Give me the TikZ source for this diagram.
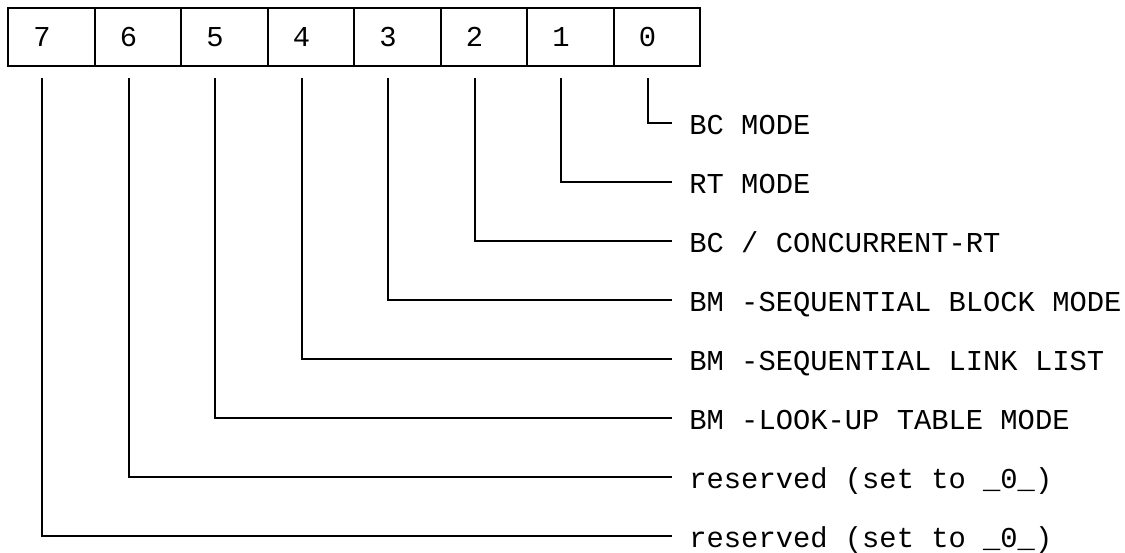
\documentclass[tikz,border=0pt]{standalone}
\usepackage{fontspec}
\setmonofont{Liberation Mono}
\usetikzlibrary{positioning}

\tikzset{
  cell/.style   = {draw, line width=1pt, minimum width=43.25pt, minimum height=29pt, inner sep=0pt, outer sep=0pt},
  bitnum/.style = {font=\ttfamily\fontsize{14.4}{16}\selectfont, inner sep=0pt},
  field/.style  = {anchor=west, font=\ttfamily\fontsize{14.4}{16}\selectfont, inner xsep=8.5pt, inner ysep=0pt, text height=11pt, text depth=0pt},
  lead/.style   = {line width=1pt, shorten <=6pt}
}

\begin{document}
\begin{tikzpicture}[x=0.5pt,y=-0.5pt]
    \useasboundingbox (0,0) rectangle (1125,552);

    % register cells, bit 7 on the left
    \node[cell] (c7) at (51.25,37) {};
    \foreach \i [remember=\i as \prev (initially 7)] in {6,...,0}
        \node[cell, right=0pt of c\prev] (c\i) {};

    \foreach \i in {0,...,7}
        \node[bitnum] (d\i) at ([xshift=-4.6pt]c\i.center) {\i};

    % one field name per bit
    \foreach \i/\txt in {0/{BC MODE},
                         1/{RT MODE},
                         2/{BC / CONCURRENT-RT},
                         3/{BM -SEQUENTIAL BLOCK MODE},
                         4/{BM -SEQUENTIAL LINK LIST},
                         5/{BM -LOOK-UP TABLE MODE},
                         6/{reserved (set to \_0\_)},
                         7/{reserved (set to \_0\_)}}
        \node[field] (l\i) at (672,123+59*\i) {\txt};

    \foreach \i in {0,...,7}
        \draw[lead] (d\i |- c\i.south) |- (l\i.west);
\end{tikzpicture}
\end{document}
